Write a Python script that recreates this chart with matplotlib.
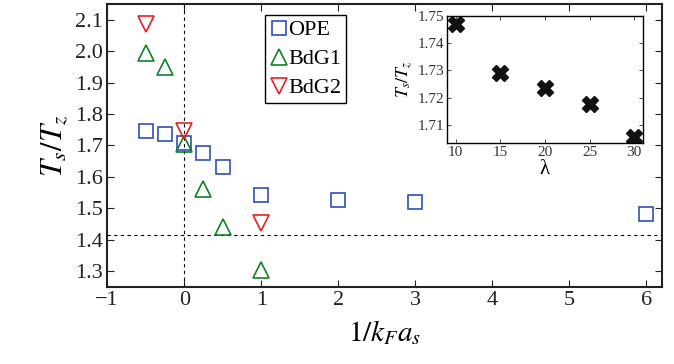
import numpy as np
import matplotlib.pyplot as plt

plt.rcParams['font.family'] = ['Liberation Serif', 'DejaVu Serif']
plt.rcParams['mathtext.fontset'] = 'stix'

# main panel data
ope_x = [-0.5, -0.25, 0, 0.25, 0.5, 1, 2, 3, 6]
ope_y = [1.745, 1.737, 1.708, 1.677, 1.632, 1.543, 1.525, 1.520, 1.483]
bdg1_x = [-0.5, -0.25, 0, 0.25, 0.5, 1]
bdg1_y = [1.995, 1.950, 1.705, 1.560, 1.440, 1.302]
bdg2_x = [-0.5, 0, 1]
bdg2_y = [2.085, 1.745, 1.452]

# inset data
lam = [10, 15, 20, 25, 30]
lam_y = [1.7472, 1.7290, 1.7237, 1.7176, 1.7055]

fig = plt.figure(figsize=(6.74, 3.64), dpi=100)
ax = fig.add_axes([0.159, 0.212, 0.823, 0.777])

ax.axvline(0, color='k', ls=(0, (3, 3)), lw=0.8)
ax.axhline(np.sqrt(2), color='k', ls=(0, (3, 3)), lw=0.8)

ax.plot(ope_x, ope_y, 's', ms=10, mfc='none', mec='#3050b0', mew=1.2, label='OPE')
ax.plot(bdg1_x, bdg1_y, '^', ms=12, mfc='none', mec='#10802a', mew=1.2, label='BdG1')
ax.plot(bdg2_x, bdg2_y, 'v', ms=12, mfc='none', mec='#e82020', mew=1.2, label='BdG2')

ax.set_xlim(-1, 6.2)
ax.set_ylim(1.25, 2.15)
ax.set_xticks(range(-1, 7))
ax.set_yticks([1.3, 1.4, 1.5, 1.6, 1.7, 1.8, 1.9, 2.0, 2.1])
ax.set_yticklabels(['1.3', '1.4', '1.5', '1.6', '1.7', '1.8', '1.9', '2.0', '2.1'])
ax.xaxis.set_major_formatter(plt.FuncFormatter(lambda v, p: f'{int(v)}'.replace('-', '\u2212')))
ax.tick_params(direction='in', top=True, right=True, labelsize=16, length=5, width=0.8,
               colors='#222222', pad=3)
for s in ax.spines.values():
    s.set_linewidth(1.5)
    s.set_color('#222222')

ax.set_xlabel(r'$1/k_F a_s$', fontsize=21, labelpad=6)
ax.set_ylabel(r'$T_s/T_z$', fontsize=22, labelpad=4)

leg = ax.legend(loc='upper left', bbox_to_anchor=(0.285, 0.96), fontsize=16,
                handlelength=0.8, handletextpad=0.05, borderpad=0.2, borderaxespad=0,
                labelspacing=0.38, fancybox=False, edgecolor='k', framealpha=1)
leg.get_frame().set_linewidth(1.0)

# inset
ins = fig.add_axes([0.663, 0.607, 0.291, 0.349])
ins.plot(lam, lam_y, 'X', ms=11, color='#111111', mec='#111111')
ins.set_xlim(9, 31)
ins.set_ylim(1.7033, 1.75)
ins.set_xticks(lam)
ins.set_yticks([1.71, 1.72, 1.73, 1.74, 1.75])
ins.tick_params(direction='in', top=True, right=True, labelsize=11, length=3, width=0.6,
                colors='#333333', pad=2)
for s in ins.spines.values():
    s.set_linewidth(1.0)
ins.set_xlabel('λ', fontsize=15, labelpad=1)
ins.set_ylabel(r'$T_s/T_z$', fontsize=13, labelpad=2)

fig.savefig('out.png', dpi=100)
